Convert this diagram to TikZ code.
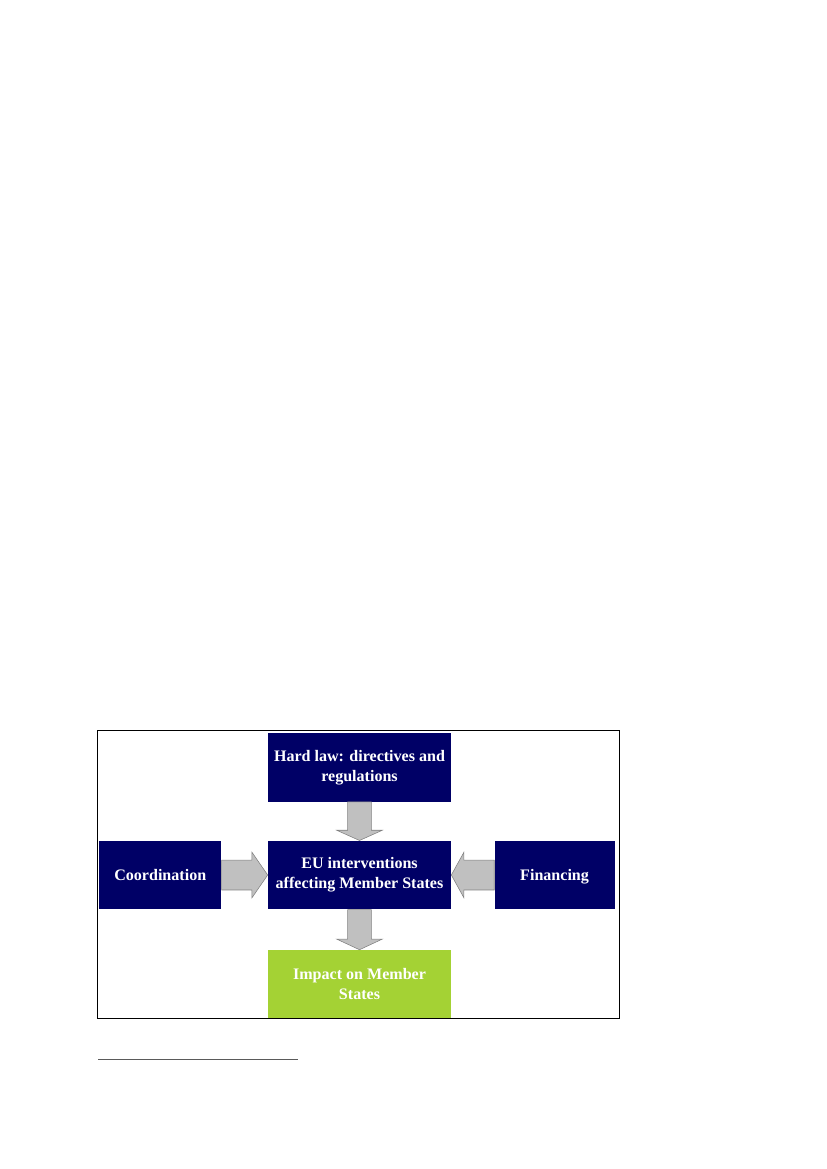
\documentclass[tikz,border=0pt]{standalone}
\usepackage{fontspec}
\setmainfont{Liberation Serif}
\usetikzlibrary{positioning,calc}
\definecolor{eunavy}{HTML}{000066}
\definecolor{impgreen}{HTML}{A4D234}
\definecolor{arrfill}{HTML}{C0C0C0}
\definecolor{arrline}{HTML}{808080}

\begin{document}
\begin{tikzpicture}[
  x=0.25393mm, y=0.25393mm,
  box/.style={fill=#1, text=white, font=\fontsize{11.6}{14.4}\selectfont\bfseries,
              minimum width=46.5mm, minimum height=17.4mm, align=center, inner sep=1pt},
  blk/.style={fill=arrfill, draw=arrline, line width=0.4pt, line join=miter},
]
\useasboundingbox (0,0) rectangle (827,-1169);

% Mittlerer Kasten und Umgebung
\node[box=eunavy] (mid) at (359.5,-875) {EU interventions\\affecting Member States};
\node[box=eunavy, above=9.8mm of mid] (hard) {Hard law: directives and\\regulations};
\node[box=eunavy, minimum width=31mm, text depth=0pt, left=11.7mm of mid] (coord) {Coordination};
\node[box=eunavy, minimum width=30.5mm, text depth=0pt, right=10.9mm of mid] (fin) {Financing};
\node[box=impgreen, minimum height=17.2mm, below=10.2mm of mid] (imp) {Impact on Member\\States};

% Blockpfeile
\draw[blk] ($(hard.south)+(-3mm,0)$) -- ($(mid.north)+(-3mm,2.6mm)$) -- ($(mid.north)+(-5.8mm,2.6mm)$)
  -- (mid.north) -- ($(mid.north)+(5.8mm,2.6mm)$) -- ($(mid.north)+(3mm,2.6mm)$) -- ($(hard.south)+(3mm,0)$) -- cycle;
\draw[blk] ($(mid.south)+(-3mm,0)$) -- ($(imp.north)+(-3mm,2.7mm)$) -- ($(imp.north)+(-5.8mm,2.7mm)$)
  -- (imp.north) -- ($(imp.north)+(5.8mm,2.7mm)$) -- ($(imp.north)+(3mm,2.7mm)$) -- ($(mid.south)+(3mm,0)$) -- cycle;
\draw[blk] ($(coord.east)+(0,3.8mm)$) -- ($(mid.west)+(-4mm,3.8mm)$) -- ($(mid.west)+(-4mm,5.8mm)$)
  -- (mid.west) -- ($(mid.west)+(-4mm,-5.8mm)$) -- ($(mid.west)+(-4mm,-3.8mm)$) -- ($(coord.east)+(0,-3.8mm)$) -- cycle;
\draw[blk] ($(fin.west)+(0,3.8mm)$) -- ($(mid.east)+(3.2mm,3.8mm)$) -- ($(mid.east)+(3.2mm,5.8mm)$)
  -- (mid.east) -- ($(mid.east)+(3.2mm,-5.8mm)$) -- ($(mid.east)+(3.2mm,-3.8mm)$) -- ($(fin.west)+(0,-3.8mm)$) -- cycle;

% Rahmen
\draw[line width=0.6pt] (97,-730) rectangle (619,-1018);

% Fussnotenstrich
\draw[arrline!70!black, line width=0.6pt] (98,-1059) -- (298,-1059);
\end{tikzpicture}
\end{document}
